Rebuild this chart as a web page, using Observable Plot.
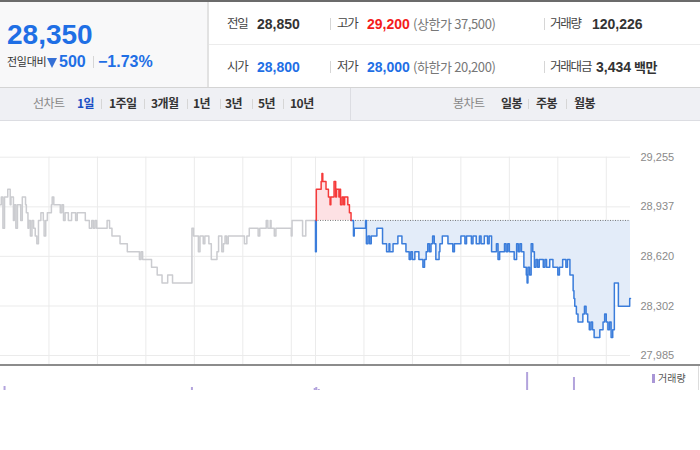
<!DOCTYPE html>
<html><head><meta charset="utf-8">
<script src="https://cdn.jsdelivr.net/npm/d3@7"></script>
<script src="https://cdn.jsdelivr.net/npm/@observablehq/plot@0.6"></script>
<style>
body{margin:0;width:700px;height:450px;background:#fff;position:relative;overflow:hidden;font-family:"Liberation Sans","Noto Sans CJK KR",sans-serif;}
.a{position:absolute;white-space:nowrap;line-height:1;}
.kr{font-family:"Noto Sans CJK KR",sans-serif;}
.lab{font-size:12.5px;color:#444;letter-spacing:-1.2px;}
.num{font-size:14px;font-weight:bold;color:#333;}
.sep{position:absolute;width:1px;background:#d6d6d6;}
.tab{font-size:12px;color:#333;font-weight:bold;letter-spacing:-0.5px;}
.gray{color:#888;font-weight:normal;}
</style></head>
<body>
<div id="hdr"></div>
<div id="price" style="position:absolute;left:0;top:121px;width:700px;height:244px;"></div>
<div style="position:absolute;left:0;top:364px;width:700px;height:2px;background:#8c8c8c;"></div>
<div id="vol" style="position:absolute;left:0;top:366px;width:700px;height:24px;overflow:hidden;"></div>
<div style="position:absolute;left:698px;top:366px;width:1px;height:24px;background:#ddd;"></div>
<script>
// ---------- data ----------
const prevClose = 28850;
const yTicks = [29255, 28937, 28620, 28302, 27985];
const hourGrid = [60, 120, 180, 240, 300, 360, 390, 450, 510, 570, 630, 690, 750];
// yesterday: [minute from open, price]
const prevDay = [[0,28950],[1,29000],[3,28800],[5,29000],[9,29050],[12,28950],[13,29000],[16,28850],[17,28950],[19,28800],[21,28950],[25,28850],[27,29000],[31,28950],[32,28900],[34,28800],[35,28850],[37,28750],[39,28850],[41,28800],[43,28750],[45,28700],[47,28850],[50,28900],[53,28850],[54,28750],[56,28850],[58,28900],[63,28950],[64,29000],[66,28950],[74,28900],[76,28950],[78,28850],[80,28900],[84,28850],[88,28900],[93,28850],[95,28900],[105,28850],[110,28800],[113,28850],[115,28800],[117,28850],[119,28800],[132,28850],[135,28800],[138,28750],[148,28700],[157,28650],[172,28600],[174,28650],[176,28600],[187,28550],[194,28500],[200,28450],[207,28500],[213,28450],[237,28800],[239,28750],[245,28650],[247,28750],[251,28700],[253,28750],[258,28700],[261,28600],[268,28650],[270,28750],[274,28650],[276,28700],[278,28750],[280,28700],[282,28750],[302,28700],[305,28750],[308,28800],[319,28750],[321,28800],[329,28850],[331,28800],[334,28850],[335,28800],[339,28750],[341,28800],[360,28750],[361,28850],[374,28750],[378,28850],[390,28850]];
// today: [minute from open, price]
const today = [[0,28650],[1,29050],[7,29100],[8,29150],[9,29100],[13,29050],[16,29000],[18,28950],[19,29000],[23,29100],[25,29000],[26,29050],[29,29000],[30,29050],[31,28950],[33,29000],[35,28950],[36,29000],[40,28950],[42,28900],[44,28850],[47,28750],[48,28800],[62,28850],[63,28700],[65,28750],[67,28700],[69,28750],[76,28800],[83,28700],[88,28650],[91,28700],[92,28650],[96,28700],[102,28750],[107,28700],[112,28650],[116,28600],[118,28650],[120,28600],[123,28650],[128,28600],[133,28550],[135,28600],[137,28650],[139,28700],[141,28650],[143,28700],[145,28750],[147,28700],[149,28600],[153,28650],[154,28700],[157,28750],[164,28700],[170,28650],[172,28700],[180,28750],[185,28700],[187,28750],[193,28700],[195,28750],[199,28700],[203,28750],[205,28700],[209,28750],[213,28700],[215,28750],[218,28650],[224,28700],[226,28600],[228,28650],[234,28700],[236,28650],[238,28700],[240,28650],[246,28600],[249,28700],[251,28650],[253,28700],[255,28650],[258,28550],[261,28500],[262,28450],[263,28550],[265,28500],[267,28700],[269,28650],[271,28550],[273,28600],[275,28550],[277,28600],[282,28550],[284,28600],[286,28550],[290,28600],[294,28550],[300,28500],[302,28550],[306,28600],[310,28550],[312,28600],[315,28500],[319,28400],[320,28350],[321,28300],[323,28250],[325,28200],[331,28250],[333,28300],[335,28250],[337,28200],[339,28150],[341,28200],[343,28150],[345,28100],[352,28150],[356,28200],[358,28250],[360,28200],[362,28150],[364,28200],[366,28100],[368,28150],[370,28450],[375,28300],[389,28350],[390,28350]];
const volPrev = [[5,4000],[237,3900],[389,3800]];
const volToday = [[1,3900],[4,3700],[262,5400],[320,4900]];

// header text
const quote = {price:"28,350", change:"500", rate:"−1.73%"};
const rows = [
  [{l:"전일",v:"28,850",c:"#333"},{l:"고가",v:"29,200",c:"#f41c1c",x:"(상한가 37,500)"},{l:"거래량",v:"120,226",c:"#333"}],
  [{l:"시가",v:"28,800",c:"#1f6fe5"},{l:"저가",v:"28,000",c:"#1f6fe5",x:"(하한가 20,200)"},{l:"거래대금",v:"3,434",c:"#333",u:"백만"}]
];
const tabsL = ["1일","1주일","3개월","1년","3년","5년","10년"];
const tabsR = ["일봉","주봉","월봉"];

// ---------- header (HTML) ----------
const H = document.getElementById("hdr");
let h = "";
h += `<div class="a" style="left:0;top:0;width:700px;height:2px;background:#6b6b6b"></div>`;
h += `<div class="a" style="left:0;top:2px;width:207px;height:85px;background:#f8f8f9"></div>`;
h += `<div class="a" style="left:207px;top:2px;width:2px;height:85px;background:#e2e2e2"></div>`;
h += `<div class="a" style="left:209px;top:44px;width:491px;height:1px;background:#ececec"></div>`;
h += `<div class="a" style="left:0;top:87px;width:700px;height:1px;background:#d4d4d4"></div>`;
h += `<div class="a" style="left:7px;top:21px;font-size:28px;font-weight:bold;color:#1f6fe5">${quote.price}</div>`;
h += `<div class="a kr" style="left:7px;top:56px;font-size:11px;color:#333;letter-spacing:-0.3px">전일대비</div>`;
h += `<div class="a" style="left:47px;top:58px;width:0;height:0;border-left:5.5px solid transparent;border-right:5.5px solid transparent;border-top:10px solid #3570d6"></div>`;
h += `<div class="a" style="left:59px;top:54px;font-size:16px;font-weight:bold;color:#1f6fe5">${quote.change}</div>`;
h += `<div class="sep" style="left:93px;top:56px;height:12px"></div>`;
h += `<div class="a" style="left:98px;top:54px;font-size:16px;font-weight:bold;color:#1f6fe5">${quote.rate}</div>`;
const colX = [227, 337, 550], numX = [257, 367, 592], sepX = [330, 544];
rows.forEach((r, i) => {
  const cy = i === 0 ? 24 : 67;
  r.forEach((c, j) => {
    h += `<div class="a kr lab" style="left:${colX[j]}px;top:${cy-7}px">${c.l}</div>`;
    let v = `<span style="color:${c.c}">${c.v}</span>`;
    if (c.u) v += `<span class="kr" style="margin-left:3px;font-size:13px;letter-spacing:-0.5px">${c.u}</span>`;
    const nx = c.u ? 596 : numX[j];
    h += `<div class="a num" style="left:${nx}px;top:${cy-7}px">${v}</div>`;
    if (c.x) h += `<div class="a kr" style="left:413px;top:${cy-7}px;font-size:13px;color:#777;letter-spacing:-0.4px">${c.x}</div>`;
  });
  sepX.forEach(x => h += `<div class="sep" style="left:${x}px;top:${cy-6}px;height:12px"></div>`);
});
// tab bar
h += `<div class="a" style="left:0;top:88px;width:700px;height:32px;background:#eff0f4"></div>`;
h += `<div class="a" style="left:0;top:120px;width:700px;height:1px;background:#dcdde2"></div>`;
h += `<div class="a" style="left:350px;top:88px;width:1px;height:32px;background:#dcdde2"></div>`;
const tabLX = [77, 109, 151, 193, 225, 258, 290], tabSepL = [101, 144, 187, 220, 252, 283];
const tabRX = [501, 536, 574], tabSepR = [528, 566];
h += `<div class="a kr tab gray" style="left:33px;top:97px">선차트</div>`;
tabsL.forEach((t, i) => h += `<div class="a kr tab" style="left:${tabLX[i]}px;top:97px;${i===0?'color:#1b4fc4':''}">${t}</div>`);
tabSepL.forEach(x => h += `<div class="sep" style="left:${x}px;top:99px;height:10px"></div>`);
h += `<div class="a kr tab gray" style="left:453px;top:97px">봉차트</div>`;
tabsR.forEach((t, i) => h += `<div class="a kr tab" style="left:${tabRX[i]}px;top:97px">${t}</div>`);
tabSepR.forEach(x => h += `<div class="sep" style="left:${x}px;top:99px;height:10px"></div>`);
// volume legend
h += `<div class="a" style="left:652px;top:374px;width:3px;height:9px;background:#a996d6"></div>`;
h += `<div class="a kr" style="left:658px;top:373px;font-size:10px;color:#555">거래량</div>`;
H.innerHTML = h;

// ---------- price chart ----------
function splitBySide(points, base) {
  const pts = [];
  points.forEach(([m, p], i) => {
    if (i > 0) pts.push([m, points[i-1][1]]);
    pts.push([m, p]);
  });
  const out = []; let run = 0, side = null;
  for (let i = 0; i < pts.length - 1; i++) {
    const a = pts[i], b = pts[i+1];
    const pieces = [];
    if ((a[1]-base)*(b[1]-base) < 0) {
      const c = [a[0] + (b[0]-a[0])*(base-a[1])/(b[1]-a[1]), base];
      pieces.push([a, c], [c, b]);
    } else pieces.push([a, b]);
    for (const [s, e] of pieces) {
      const sd = (s[1]+e[1])/2 > base ? "up" : "down";
      if (sd !== side) { run++; side = sd; out.push({m: s[0], p: s[1], run, side}); }
      out.push({m: e[0], p: e[1], run, side});
    }
  }
  return out;
}
const prevRows = prevDay.map(([m, p]) => ({m, p}));
const todayRows = today.map(([m, p]) => ({m: m + 390, p}));
const segs = splitBySide([[390, prevClose], ...today.map(([m, p]) => [m + 390, p])], prevClose);
const fmt = d3.format(",");

const price = Plot.plot({
  width: 700, height: 244,
  marginTop: 35.7, marginBottom: 0, marginLeft: 0, marginRight: 70,
  style: {fontFamily: "Liberation Sans, sans-serif", background: "transparent", overflow: "visible"},
  x: {domain: [0, 780], range: [0, 630], axis: null},
  y: {domain: [27985, 29255], range: [234, 35.7], axis: null},
  marks: [
    Plot.ruleY(yTicks, {x1: 0, x2: 780, stroke: "#ebebeb", strokeWidth: 1}),
    Plot.ruleX(hourGrid, {stroke: "#ebebeb", strokeWidth: 1}),
    Plot.areaY(todayRows, {x: "m", y1: prevClose, y2: d => Math.max(d.p, prevClose), curve: "step-after", fill: "#fde1e4"}),
    Plot.areaY(todayRows, {x: "m", y1: prevClose, y2: d => Math.min(d.p, prevClose), curve: "step-after", fill: "#e3ecf9"}),
    Plot.ruleY([prevClose], {x1: 390, x2: 780, stroke: "#777", strokeWidth: 1, strokeDasharray: "1,1.5"}),
    Plot.line(prevRows, {x: "m", y: "p", curve: "step-after", stroke: "#cbccd0", strokeWidth: 1.5}),
    Plot.line(segs.filter(d => d.side === "down"), {x: "m", y: "p", z: "run", stroke: "#3b7ddb", strokeWidth: 1.5}),
    Plot.line(segs.filter(d => d.side === "up"), {x: "m", y: "p", z: "run", stroke: "#f53a3a", strokeWidth: 1.5}),
    Plot.text(yTicks, {x: 780, y: d => d, text: d => fmt(d), dx: 10, textAnchor: "start", fill: "#8a8a8a", fontSize: 11})
  ]
});
document.getElementById("price").appendChild(price);

// ---------- volume ----------
const volRows = [...volPrev.map(([m, v]) => ({m, v})), ...volToday.map(([m, v]) => ({m: m + 390, v}))];
const vol = Plot.plot({
  width: 700, height: 24, margin: 0,
  style: {background: "transparent"},
  x: {domain: [0, 780], range: [0, 630], axis: null},
  y: {domain: [0, 6000], range: [60, 0], axis: null},
  marks: [
    Plot.ruleX(volRows, {x: "m", y1: 0, y2: "v", stroke: "#b2a3dc", strokeWidth: 2})
  ]
});
document.getElementById("vol").appendChild(vol);
</script>
</body></html>
